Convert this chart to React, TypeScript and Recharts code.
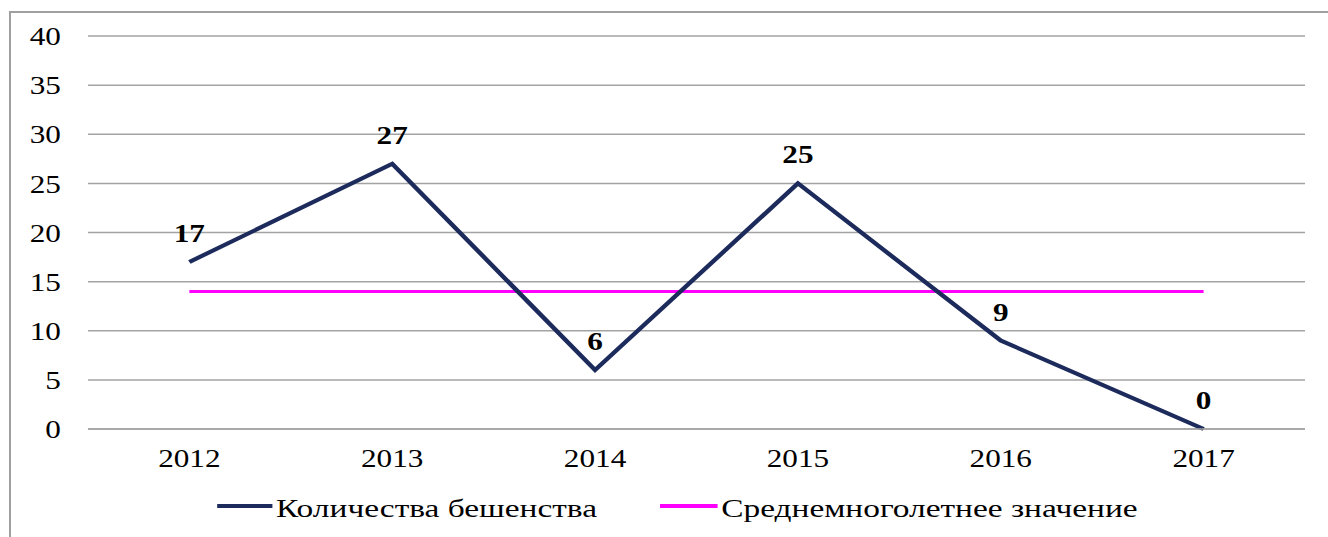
import React from 'react';
import { LineChart, Line, XAxis, YAxis, CartesianGrid, Legend, LabelList } from 'recharts';

const years = ['2012', '2013', '2014', '2015', '2016', '2017'];
const rabiesCount = [17, 27, 6, 25, 9, 0];
const longTermAvg = [14, 14, 14, 14, 14, 14];
const yTicks = [0, 5, 10, 15, 20, 25, 30, 35, 40];
const seriesNames = ['Количества бешенства', 'Среднемноголетнее значение'];

const data = years.map((y, i) => ({ year: y, count: rabiesCount[i], avg: longTermAvg[i] }));

const S = 1.2;
const W = 1107;
const H = 537;
const FONT = '"Liberation Serif", "Times New Roman", serif';
const NAVY = '#1c2b5c';
const MAGENTA = '#ff00ff';
const GRID = '#a3a3a3';

const LegendContent = () => (
  <div style={{ position: 'relative', width: W, height: 0 }}>
    {[
      { name: seriesNames[0], color: NAVY, left: 181, w: 46 },
      { name: seriesNames[1], color: MAGENTA, left: 550, w: 48 },
    ].map((it) => (
      <div key={it.name} style={{ position: 'absolute', left: it.left, top: 496, height: 26, whiteSpace: 'nowrap' }}>
        <div style={{ position: 'absolute', left: 0, top: 7.5, width: it.w, height: 4, background: it.color }} />
        <span
          style={{
            position: 'absolute',
            left: it.w + 3,
            top: 0,
            fontFamily: FONT,
            fontSize: 26,
            color: '#000',
            lineHeight: '26px',
            transform: 'scaleX(1.07)',
            transformOrigin: '0 0',
            display: 'inline-block',
          }}
        >
          {it.name}
        </span>
      </div>
    ))}
  </div>
);

export default function App() {
  return (
    <div style={{ position: 'fixed', left: 0, top: 0, width: 1328, height: 537, overflow: 'hidden', background: '#fff' }}>
      <div style={{ position: 'absolute', left: 9, top: 11, width: 1400, height: 600, border: '2px solid #a0a0a0' }} />
      <div style={{ position: 'absolute', left: 0, top: 0, transform: `scale(${S}, 1)`, transformOrigin: '0 0' }}>
        <LineChart width={W} height={H} data={data} margin={{ top: 36, right: 19.5, bottom: 68, left: 0 }}>
          <CartesianGrid vertical={false} stroke={GRID} strokeWidth={1.5} />
          <XAxis
            dataKey="year"
            height={40}
            tickLine={false}
            tickSize={0}
            tickMargin={20}
            axisLine={{ stroke: GRID, strokeWidth: 1.5 }}
            padding={{ left: 84.5, right: 84.5 }}
            tick={{ fontFamily: FONT, fontSize: 26, fill: '#000' }}
            interval={0}
          />
          <YAxis
            width={73.3}
            domain={[0, 40]}
            ticks={yTicks}
            tickLine={false}
            tickSize={0}
            tickMargin={22.5}
            axisLine={false}
            tick={{ fontFamily: FONT, fontSize: 26, fill: '#000' }}
            interval={0}
          />
          <Legend verticalAlign="top" wrapperStyle={{ top: 0, left: 0, height: 0, width: W, margin: 0 }} content={<LegendContent />} />
          <Line
            type="linear"
            dataKey="avg"
            name={seriesNames[1]}
            stroke={MAGENTA}
            strokeWidth={3}
            dot={false}
            activeDot={false}
            isAnimationActive={false}
          />
          <Line
            type="linear"
            dataKey="count"
            name={seriesNames[0]}
            stroke={NAVY}
            strokeWidth={4}
            dot={false}
            activeDot={false}
            isAnimationActive={false}
          >
            <LabelList
              dataKey="count"
              position="top"
              offset={20}
              style={{ fontFamily: FONT, fontSize: 26, fontWeight: 'bold', fill: '#000' }}
            />
          </Line>
        </LineChart>
      </div>
    </div>
  );
}
